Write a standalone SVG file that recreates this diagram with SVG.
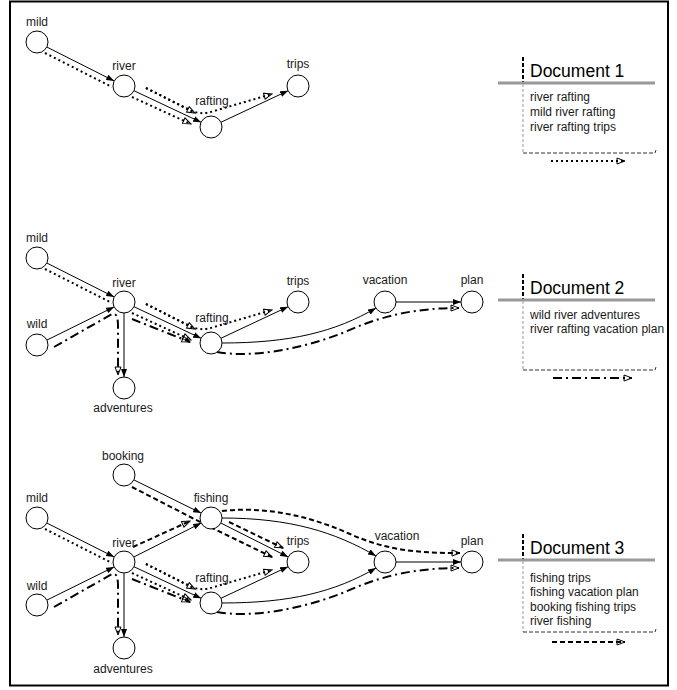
<svg xmlns="http://www.w3.org/2000/svg" width="677" height="690" viewBox="0 0 677 690">
<style>
.e{fill:none;stroke:#000;stroke-width:1;marker-end:url(#ah)}
.d1{fill:none;stroke:#000;stroke-width:2;stroke-dasharray:2 3}
.d2{fill:none;stroke:#000;stroke-width:2;stroke-dasharray:9 4 2 4}
.d3{fill:none;stroke:#000;stroke-width:2;stroke-dasharray:5 3}
.m{marker-end:url(#oh)}
.n circle{fill:#fff;stroke:#000;stroke-width:1}
.n text,.lbl{font-family:"Liberation Sans",Arial,sans-serif;font-size:12px;text-anchor:middle;fill:#1a1a1a}
.dh{font-family:"Liberation Sans",Arial,sans-serif;font-size:17.5px;fill:#000}
.dt{font-family:"Liberation Sans",Arial,sans-serif;font-size:12px;fill:#1a1a1a}
.gl{stroke:#999;stroke-width:3}
.bv{stroke:#000;stroke-width:2;stroke-dasharray:4 2}
.tv{stroke:#999;stroke-width:1;stroke-dasharray:3 2}
.bb{stroke:#333;stroke-width:1;stroke-dasharray:4 2;fill:none}
</style>
<defs>
<marker id="ah" viewBox="0 0 8 6" refX="8" refY="3" markerWidth="8" markerHeight="6" markerUnits="userSpaceOnUse" orient="auto"><path d="M0,0 L8,3 L0,6 Z" fill="#000"/></marker>
<marker id="oh" viewBox="-1 -1 10 8" refX="8" refY="3" markerWidth="10" markerHeight="8" markerUnits="userSpaceOnUse" orient="auto"><path d="M0,0 L8,3 L0,6 Z" fill="none" stroke="#000" stroke-width="1"/></marker>
</defs>
<rect x="10" y="1.5" width="658" height="684" fill="#fff" stroke="#000" stroke-width="2"/>

<g id="connectors">
 <g id="c1" transform="translate(0,86)">
  <path class="e" d="M46.8,-39 L114.2,-5"/>
  <path class="e" d="M133.9,4.7 L201.1,36.3"/>
  <path class="e" d="M220.9,36.3 L288.1,4.7"/>
  <path class="d1" d="M45,-33 L112,1"/>
  <path class="d1 m" d="M132,11 L191,38"/>
  <path class="d1 m" d="M146,2 L195,27"/>
  <path class="d1 m" d="M146,2 L190,24 C198,28 205,28 214,25 L272,8"/>
 </g>
 <g id="c2" transform="translate(0,302)">
  <path class="e" d="M46.8,-39 L114.2,-5"/>
  <path class="e" d="M46.9,38.1 L114.1,4.9"/>
  <path class="e" d="M124,11 L124,75"/>
  <path class="e" d="M133.9,4.7 L201.1,36.3"/>
  <path class="e" d="M220.9,36.3 L288.1,4.7"/>
  <path class="e" d="M222,41 C290,41 335,30 376,6"/>
  <path class="e" d="M396,0 L461,0"/>
  <path class="d1" d="M45,-33 L112,1"/>
  <path class="d1 m" d="M132,11 L191,38"/>
  <path class="d1 m" d="M146,2 L195,27"/>
  <path class="d1 m" d="M146,2 L190,24 C198,28 205,28 214,25 L272,8"/>
  <path class="d2 m" d="M54,45 L112,12 Q118,10 118,24 L118,73"/>
  <path class="d2 m" d="M132,17 L190,40"/>
  <path class="d2 m" d="M217,50 C250,56 300,48 345,30 C385,12 420,6 459,6"/>
 </g>
 <g id="c3" transform="translate(0,562)">
  <path class="e" d="M133.9,-82.1 L201.1,-48.9"/>
  <path class="e" d="M46.8,-39 L114.2,-5"/>
  <path class="e" d="M46.9,38.1 L114.1,4.9"/>
  <path class="e" d="M133.8,-5 L201.2,-39"/>
  <path class="e" d="M124,11 L124,75"/>
  <path class="e" d="M133.9,4.7 L201.1,36.3"/>
  <path class="e" d="M220.8,-39 L288.2,-5"/>
  <path class="e" d="M220.9,36.3 L288.1,4.7"/>
  <path class="e" d="M222,-44 C290,-44 335,-30 376,-6"/>
  <path class="e" d="M222,41 C290,41 335,30 376,6"/>
  <path class="e" d="M396,0 L461,0"/>
  <path class="d1" d="M45,-33 L112,1"/>
  <path class="d1 m" d="M132,11 L191,38"/>
  <path class="d1 m" d="M146,2 L195,27"/>
  <path class="d1 m" d="M146,2 L190,24 C198,28 205,28 214,25 L272,8"/>
  <path class="d2 m" d="M54,45 L112,12 Q118,10 118,24 L118,73"/>
  <path class="d2 m" d="M132,17 L190,40"/>
  <path class="d2 m" d="M217,50 C250,56 300,48 345,30 C385,12 420,6 459,6"/>
  <path class="d3 m" d="M132,-75 L204,-38 L272,-5"/>
  <path class="d3 m" d="M229,-40 L283,-14"/>
  <path class="d3 m" d="M222,-51 C265,-56 310,-46 350,-28 C390,-10 425,-9 460,-9"/>
  <path class="d3 m" d="M133,-15 L190,-41"/>
 </g>
</g>

<g id="s1-mild" class="n"><circle cx="37" cy="42" r="11"/><text x="37" y="26">mild</text></g>
<g id="s1-river" class="n"><circle cx="124" cy="86" r="11"/><text x="124" y="70">river</text></g>
<g id="s1-rafting" class="n"><circle cx="211" cy="127" r="11"/><text x="212" y="105">rafting</text></g>
<g id="s1-trips" class="n"><circle cx="298" cy="86" r="11"/><text x="298" y="68">trips</text></g>

<g id="s2-mild" class="n"><circle cx="37" cy="258" r="11"/><text x="37" y="242">mild</text></g>
<g id="s2-wild" class="n"><circle cx="37" cy="345" r="11"/><text x="37" y="328">wild</text></g>
<g id="s2-river" class="n"><circle cx="124" cy="302" r="11"/><text x="124" y="287">river</text></g>
<g id="s2-rafting" class="n"><circle cx="211" cy="343" r="11"/><text x="212" y="322">rafting</text></g>
<g id="s2-trips" class="n"><circle cx="298" cy="302" r="11"/><text x="298" y="285">trips</text></g>
<g id="s2-adventures" class="n"><circle cx="124" cy="388" r="11"/><text x="123" y="412">adventures</text></g>
<g id="s2-vacation" class="n"><circle cx="385" cy="302" r="11"/><text x="385" y="284">vacation</text></g>
<g id="s2-plan" class="n"><circle cx="472" cy="302" r="11"/><text x="472" y="284">plan</text></g>

<g id="s3-booking" class="n"><circle cx="124" cy="475" r="11"/><text x="123" y="460">booking</text></g>
<g id="s3-mild" class="n"><circle cx="37" cy="518" r="11"/><text x="37" y="502">mild</text></g>
<g id="s3-fishing" class="n"><circle cx="211" cy="518" r="11"/><text x="211" y="502">fishing</text></g>
<g id="s3-river" class="n"><circle cx="124" cy="562" r="11"/><text x="124" y="547">river</text></g>
<g id="s3-wild" class="n"><circle cx="37" cy="605" r="11"/><text x="37" y="590">wild</text></g>
<g id="s3-rafting" class="n"><circle cx="211" cy="603" r="11"/><text x="212" y="582">rafting</text></g>
<g id="s3-trips" class="n"><circle cx="298" cy="562" r="11"/><text x="298" y="545">trips</text></g>
<g id="s3-adventures" class="n"><circle cx="124" cy="648" r="11"/><text x="123" y="673">adventures</text></g>
<g id="s3-vacation" class="n"><circle cx="385" cy="562" r="11"/><text x="397" y="540">vacation</text></g>
<g id="s3-plan" class="n"><circle cx="472" cy="562" r="11"/><text x="472" y="545">plan</text></g>

<g id="doc1">
 <path class="bv" d="M523,57 L523,83"/>
 <path class="gl" d="M498,83 L655,83"/>
 <path class="tv" d="M523,84 L523,153"/>
 <path class="bb" d="M523,153 L655,153 L656,150"/>
 <text class="dh" x="530" y="77">Document 1</text>
 <text class="dt" x="530" y="101">river rafting</text>
 <text class="dt" x="530" y="116">mild river rafting</text>
 <text class="dt" x="530" y="131">river rafting trips</text>
 <path class="d1 m" d="M551,161 L625,161"/>
</g>
<g id="doc2">
 <path class="bv" d="M523,274 L523,300"/>
 <path class="gl" d="M498,300 L655,300"/>
 <path class="tv" d="M523,301 L523,370"/>
 <path class="bb" d="M523,370 L655,370 L656,367"/>
 <text class="dh" x="530" y="294">Document 2</text>
 <text class="dt" x="530" y="318.5">wild river adventures</text>
 <text class="dt" x="530" y="333">river rafting vacation plan</text>
 <path class="d2 m" d="M553,378 L632,378"/>
</g>
<g id="doc3">
 <path class="bv" d="M523,534 L523,560"/>
 <path class="gl" d="M498,560 L655,560"/>
 <path class="tv" d="M523,561 L523,632"/>
 <path class="bb" d="M523,632 L655,632 L656,629"/>
 <text class="dh" x="530" y="554">Document 3</text>
 <text class="dt" x="530" y="581.5">fishing trips</text>
 <text class="dt" x="530" y="596">fishing vacation plan</text>
 <text class="dt" x="530" y="610.5">booking fishing trips</text>
 <text class="dt" x="530" y="625">river fishing</text>
 <path class="d3 m" d="M552,642 L625,642"/>
</g>
</svg>
